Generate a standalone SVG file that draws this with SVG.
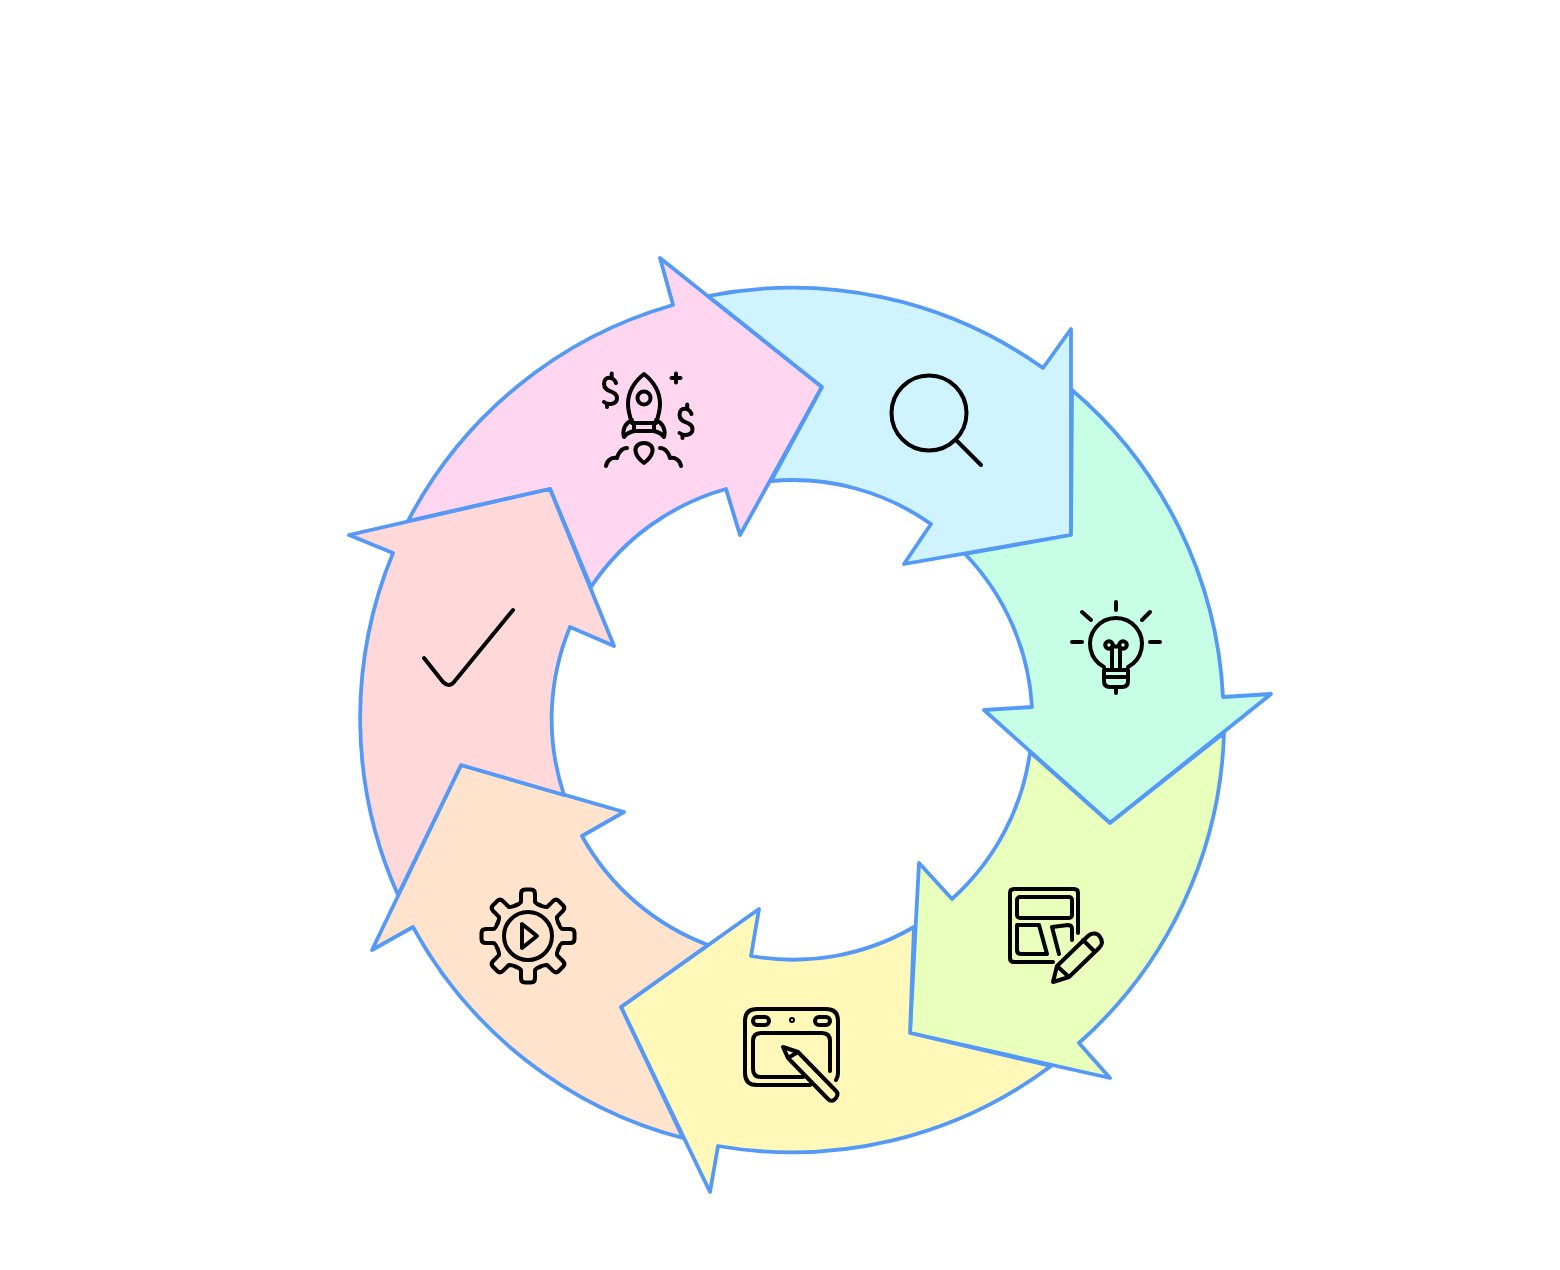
<svg xmlns="http://www.w3.org/2000/svg" width="1560" height="1270" viewBox="0 0 1560 1270">
<style>
.a{stroke:#5599F7;stroke-width:3.8;stroke-linejoin:round}
.i{fill:none;stroke:#000;stroke-width:4;stroke-linecap:round;stroke-linejoin:round}
</style>
<defs>
<path id="tooth" d="M-12.6,-30.5 Q-8.5,-32 -7,-34 L-7,-42 Q-7,-46.500 -3,-46.500 L3,-46.500 Q7,-46.500 7,-42 L7,-34 Q8.5,-32 12.6,-30.5"/>
<path id="dollar" d="M616,383 C614,377 604,375 604,384 C604,393 617,390 617,398 C617,405 608,405 604,402 M611.700,373.500 L611.700,376.500 M607,404 L607,407"/>
</defs>
<rect width="1560" height="1270" fill="#fff"/>
<g id="step-launch">
<path class="a" fill="#FFD6F0" d="M408,521 A432,432 0 0 1 673,305 L660,258 L822,387 L740,535 L726,489 A240,240 0 0 0 591,587 L550,489 Z"/>
<g class="i">
<path d="M644,374 C634,382 628,392 628,404 C628,411 630,417 632,423 L656,423 C658,417 660,411 660,404 C660,392 654,382 644,374 Z"/>
<circle cx="644" cy="398" r="6.500"/>
<path d="M632,420 C625,423 622,430 624,437 C627,433 630,432 634,431 L654,431 C658,432 661,433 664,437 C666,430 663,423 656,420 M634,423 L634,431 M654,423 L654,431"/>
<path d="M644,443 C638,443 635,447 635.500,451 C636,455 640,460 644,463 C648,460 652,455 652.500,451 C653,447 650,443 644,443 Z"/>
<path d="M606,466 C607,460 612,457 617,458 C618,453 622,448 627,448 M681,466 C680,460 675,457 670,458 C669,453 665,448 660,448"/>
<use href="#dollar"/>
<use href="#dollar" transform="translate(75.500,31)"/>
<path d="M676,373.500 L676,382.500 M671.500,378 L680.500,378"/>
</g>
</g>
<g id="step-research">
<path class="a" fill="#D0F4FF" d="M708,296 A432,432 0 0 1 1043,368 L1071,329 L1071,535 L904,564 L931,524 A240,240 0 0 0 771,481 L822,387 Z"/>
<g class="i">
<circle cx="929" cy="413" r="37.500"/>
<path d="M956,440 L981,465"/>
</g>
</g>
<g id="step-idea">
<path class="a" fill="#C6FFE6" d="M1072,390 A432,432 0 0 1 1223,697 L1271,694 L1110,823 L984,710 L1032,707 A240,240 0 0 0 965,554 L1071,535 Z"/>
<g class="i">
<path d="M1104,667 A26,26 0 1 1 1128,667"/>
<path d="M1116,602 L1116,610 M1082,612 L1091,620 M1150,612 L1142,620 M1072,642 L1082,642 M1150,642 L1160,642"/>
<circle cx="1109" cy="645" r="3.800"/>
<circle cx="1123" cy="645" r="3.800"/>
<path d="M1112,670 L1112,648 M1120,670 L1120,648 M1112.500,646.500 L1119.500,646.500"/>
<path d="M1104,670 L1128,670 L1128,681 Q1128,687 1122,687 L1110,687 Q1104,687 1104,681 Z M1104,677 L1128,677 M1116,687 L1116,693"/>
</g>
</g>
<g id="step-wireframe">
<path class="a" fill="#E9FFBC" d="M1224,733 A432,432 0 0 1 1079,1043 L1110,1078 L910,1033 L919,863 L952,899 A240,240 0 0 0 1030,752 L1110,823 Z"/>
<g class="i">
<path d="M1078,933 L1078,893 Q1078,889 1074,889 L1014,889 Q1010,889 1010,893 L1010,958 Q1010,962 1014,962 L1053,962"/>
<rect x="1017" y="897" width="55" height="21" rx="3"/>
<path d="M1039,925 L1017,925 L1017,950 Q1017,954 1021,954 L1047,954 Z"/>
<path d="M1059,954 L1052,927 L1068,925 Q1072,925 1072,929 L1072,940"/>
<path d="M1053,982 L1057,966 L1088,936 C1092,932 1098,933 1100,937 C1103,941 1102,945 1099,948 L1069,977 Z M1057,966 L1069,977 M1083,940 L1095,952"/>
</g>
</g>
<g id="step-design">
<path class="a" fill="#FFF8B8" d="M1051,1066 A432,432 0 0 1 718,1146 L710,1192 L621,1007 L759,909 L751,956 A240,240 0 0 0 914,927 L910,1033 Z"/>
<g class="i">
<path d="M810,1085 L757,1085 Q745,1085 745,1073 L745,1021 Q745,1009 757,1009 L826,1009 Q838,1009 838,1021 L838,1073 Q838,1077 836,1080"/>
<path d="M803,1077 L761,1077 Q753,1077 753,1069 L753,1041 Q753,1033 761,1033 L822,1033 Q830,1033 830,1041 L830,1071"/>
<rect x="753" y="1017" width="16" height="8" rx="4"/>
<rect x="815" y="1017" width="15" height="8" rx="4"/>
<circle cx="792" cy="1020" r="1"/>
<path d="M783,1047 L798,1052 L836,1091 Q839,1094 836,1098 Q832,1103 828,1099 L788,1058 Z M788,1058 L798,1052"/>
</g>
</g>
<g id="step-build">
<path class="a" fill="#FFE3CC" d="M683,1138 A432,432 0 0 1 413,927 L372,950 L461,765 L624,812 L582,836 A240,240 0 0 0 708,945 L621,1007 Z"/>
<g class="i">
<g transform="translate(528,936)">
<use href="#tooth"/>
<use href="#tooth" transform="rotate(45)"/>
<use href="#tooth" transform="rotate(90)"/>
<use href="#tooth" transform="rotate(135)"/>
<use href="#tooth" transform="rotate(180)"/>
<use href="#tooth" transform="rotate(225)"/>
<use href="#tooth" transform="rotate(270)"/>
<use href="#tooth" transform="rotate(315)"/>
<circle r="24"/>
</g>
<path d="M522,924 L522,948 L537,936 Z"/>
</g>
</g>
<g id="step-test">
<path class="a" fill="#FFD9D9" d="M398,895 A432,432 0 0 1 393,553 L349,535 L550,489 L614,646 L570,627 A240,240 0 0 0 564,795 L461,765 Z"/>
<path class="i" d="M424,658 L443,682 Q449,688 454,682 L513,610"/>
</g>
</svg>
